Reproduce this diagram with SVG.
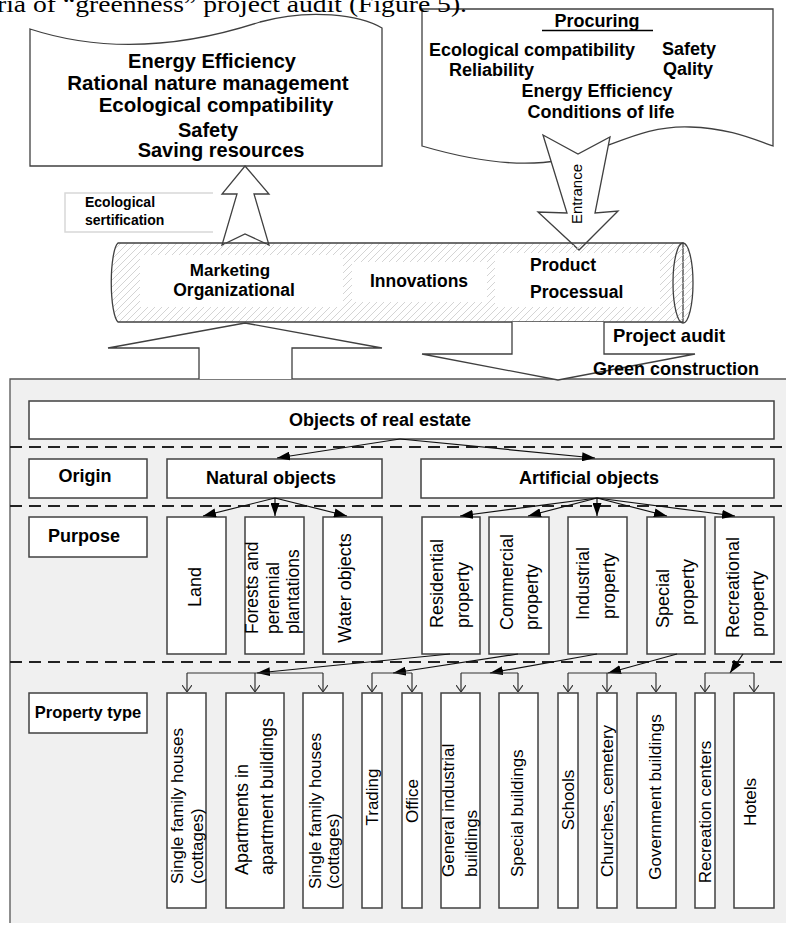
<svg xmlns="http://www.w3.org/2000/svg" width="786" height="926" viewBox="0 0 786 926">
<style>
.b{font-family:"Liberation Sans",Arial,sans-serif;font-weight:bold;fill:#000}
.r{font-family:"Liberation Sans",Arial,sans-serif;fill:#000}
.box{fill:#fff;stroke:#404040;stroke-width:1.5}
.shape{fill:#fff;stroke:#404040;stroke-width:1.3}
.conn{stroke:#111;stroke-width:1.2;fill:none}
.dash{stroke:#222;stroke-width:2;stroke-dasharray:12 7;fill:none}
</style>
<defs>
<pattern id="hatch" patternUnits="userSpaceOnUse" width="7" height="7">
<path d="M-1,8 L8,-1" stroke="#c9c9c9" stroke-width="0.8"/>
</pattern>
<marker id="fa" viewBox="0 0 10 10" refX="10" refY="5" markerUnits="userSpaceOnUse" markerWidth="13" markerHeight="9" orient="auto" preserveAspectRatio="none">
<path d="M0,0 L10,5 L0,10 Z" fill="#000"/>
</marker>
<marker id="oa" viewBox="0 0 10 10" refX="10" refY="5" markerUnits="userSpaceOnUse" markerWidth="7" markerHeight="10" orient="auto" preserveAspectRatio="none">
<path d="M0,0 L10,5 L0,10" fill="none" stroke="#333" stroke-width="1.2"/>
</marker>
</defs>
<rect width="786" height="926" fill="#fff"/>

<g id="doc-left">
<path class="shape" d="M30,29 C110,55 190,45 260,22 C310,8 360,15 382,28 L382,166 L30,166 Z"/>
<text class="b" x="212" y="68" text-anchor="middle" font-size="20">Energy Efficiency</text>
<text class="b" x="208" y="90" text-anchor="middle" font-size="20.5">Rational nature management</text>
<text class="b" x="216" y="112" text-anchor="middle" font-size="20.5">Ecological compatibility</text>
<text class="b" x="208" y="137" text-anchor="middle" font-size="20">Safety</text>
<text class="b" x="221" y="157" text-anchor="middle" font-size="20">Saving resources</text>
</g>

<g id="doc-right">
<path class="shape" d="M422,9 L773,9 L773,146 C755,140 730,128 690,127 C640,125 610,150 560,160 C520,168 470,160 422,146 Z"/>
<text class="b" x="597" y="27" text-anchor="middle" font-size="18">Procuring</text>
<line x1="542" y1="30.5" x2="653" y2="30.5" stroke="#000" stroke-width="1.3"/>
<text class="b" x="429" y="56" font-size="18">Ecological compatibility</text>
<text class="b" x="662" y="55" font-size="18">Safety</text>
<text class="b" x="449" y="76" font-size="18">Reliability</text>
<text class="b" x="663" y="75" font-size="18">Qality</text>
<text class="b" x="597" y="97" text-anchor="middle" font-size="18">Energy Efficiency</text>
<text class="b" x="601" y="118" text-anchor="middle" font-size="18">Conditions of life</text>
</g>

<g id="entrance-arrow">
<path class="shape" d="M543,135 L578,154 L610,137 L595,213 L618,211 L579,250 L538,212 L567,213 Z"/>
<text class="r" transform="translate(582,194) rotate(-90)" text-anchor="middle" font-size="15">Entrance</text>
</g>

<g id="cert-arrow">
<path class="shape" d="M245,166 L269,194 L254,194 L269,245 L245,234 L222,245 L237,194 L222,194 Z"/>
</g>

<g id="eco-cert">
<path d="M213,193 H65 V232 H213" fill="#fff" stroke="#d8d8d8" stroke-width="1.5"/>
<text class="b" x="85" y="207" font-size="14">Ecological</text>
<text class="b" x="85" y="225" font-size="14">sertification</text>
</g>

<g id="pipe">
<path d="M118,243 L683,243 L683,322 L118,322 A8,40 0 0 1 118,243 Z" fill="url(#hatch)" stroke="#404040" stroke-width="1.3"/>
<rect x="140" y="255" width="203" height="52" fill="#fff"/>
<rect x="352" y="262" width="135" height="40" fill="#fff"/>
<rect x="495" y="253" width="165" height="54" fill="#fff"/>
<ellipse cx="683" cy="283" rx="10" ry="40" fill="url(#hatch)" stroke="#404040" stroke-width="1.3"/>
<text class="b" x="230" y="276" text-anchor="middle" font-size="17">Marketing</text>
<text class="b" x="234" y="296" text-anchor="middle" font-size="17.5">Organizational</text>
<text class="b" x="419" y="287" text-anchor="middle" font-size="17.5">Innovations</text>
<text class="b" x="530" y="271" font-size="17.5">Product</text>
<text class="b" x="530" y="298" font-size="17.5">Processual</text>
</g>

<g id="gray-area">
<rect x="10" y="379" width="790" height="544" fill="#f0f0f0"/>
<path d="M10,923 V379 H786" fill="none" stroke="#555" stroke-width="1.3"/>
</g>

<g id="up-block-arrow">
<path class="shape" d="M199,379 L199,348 L108,348 L245,323 L382,348 L292,348 L292,379"/>
</g>

<g id="down-block-arrow">
<path class="shape" d="M512,322 L512,354 L422,354 L558,380 L695,354 L604,354 L604,322"/>
<text class="b" x="613" y="342" font-size="18.5">Project audit</text>
<text class="b" x="593" y="375" font-size="18">Green construction</text>
</g>

<g id="separators">
<line class="dash" x1="10" y1="447" x2="786" y2="447"/>
<line class="dash" x1="10" y1="506" x2="786" y2="506"/>
<line class="dash" x1="10" y1="662" x2="786" y2="662"/>
</g>

<g id="objects">
<rect class="box" x="29" y="401" width="745" height="38"/>
<text class="b" x="380" y="426" text-anchor="middle" font-size="18">Objects of real estate</text>
</g>
<g id="origin">
<rect class="box" x="29" y="459" width="118" height="39"/>
<text class="b" x="85" y="482" text-anchor="middle" font-size="18">Origin</text>
</g>
<g id="natural">
<rect class="box" x="167" y="459" width="215" height="39"/>
<text class="b" x="271" y="484" text-anchor="middle" font-size="18">Natural objects</text>
</g>
<g id="artificial">
<rect class="box" x="421" y="459" width="353" height="39"/>
<text class="b" x="589" y="484" text-anchor="middle" font-size="18">Artificial objects</text>
</g>
<g id="purpose">
<rect class="box" x="29" y="517" width="118" height="40"/>
<text class="b" x="84" y="542" text-anchor="middle" font-size="18">Purpose</text>
</g>

<g id="land">
<rect class="box" x="167" y="517" width="59" height="137"/>
<text class="r" transform="translate(201,587) rotate(-90)" text-anchor="middle" font-size="18">Land</text>
</g>
<g id="forests">
<rect class="box" x="245" y="517" width="59" height="137"/>
<text class="r" transform="translate(258,634) rotate(-90)" font-size="17.5">Forests and</text>
<text class="r" transform="translate(279,634) rotate(-90)" font-size="17.5">perennial</text>
<text class="r" transform="translate(299,634) rotate(-90)" font-size="17.5">plantations</text>
</g>
<g id="water">
<rect class="box" x="323" y="517" width="59" height="137"/>
<text class="r" transform="translate(351,588) rotate(-90)" text-anchor="middle" font-size="18">Water objects</text>
</g>
<g id="residential">
<rect class="box" x="422" y="517" width="58" height="137"/>
<text class="r" transform="translate(443,628) rotate(-90)" font-size="18">Residential</text>
<text class="r" transform="translate(469,628) rotate(-90)" font-size="18">property</text>
</g>
<g id="commercial">
<rect class="box" x="489" y="517" width="60" height="137"/>
<text class="r" transform="translate(513,630) rotate(-90)" font-size="18">Commercial</text>
<text class="r" transform="translate(538,630) rotate(-90)" font-size="18">property</text>
</g>
<g id="industrial">
<rect class="box" x="568" y="517" width="59" height="137"/>
<text class="r" transform="translate(589,620) rotate(-90)" font-size="18">Industrial</text>
<text class="r" transform="translate(615,619) rotate(-90)" font-size="18">property</text>
</g>
<g id="special">
<rect class="box" x="647" y="517" width="58" height="137"/>
<text class="r" transform="translate(669,628) rotate(-90)" font-size="18">Special</text>
<text class="r" transform="translate(694,625) rotate(-90)" font-size="18">property</text>
</g>
<g id="recreational">
<rect class="box" x="715" y="517" width="59" height="137"/>
<text class="r" transform="translate(739,638) rotate(-90)" font-size="18">Recreational</text>
<text class="r" transform="translate(764,637) rotate(-90)" font-size="18">property</text>
</g>

<g id="property-type">
<rect class="box" x="29" y="693" width="118" height="40"/>
<text class="b" x="88" y="718" text-anchor="middle" font-size="16.5">Property type</text>
</g>
<g id="single1">
<rect class="box" x="167" y="693" width="39" height="215"/>
<text class="r" transform="translate(183,884) rotate(-90)" font-size="17">Single  family houses</text>
<text class="r" transform="translate(203,884) rotate(-90)" font-size="17">(cottages)</text>
</g>
<g id="apartments">
<rect class="box" x="226" y="693" width="58" height="215"/>
<text class="r" transform="translate(248,875) rotate(-90)" font-size="18">Apartments in</text>
<text class="r" transform="translate(273,875) rotate(-90)" font-size="18">apartment buildings</text>
</g>
<g id="single2">
<rect class="box" x="303" y="693" width="40" height="215"/>
<text class="r" transform="translate(321,889) rotate(-90)" font-size="17">Single  family houses</text>
<text class="r" transform="translate(339,889) rotate(-90)" font-size="17">(cottages)</text>
</g>
<g id="trading">
<rect class="box" x="362" y="693" width="20" height="215"/>
<text class="r" transform="translate(378,797) rotate(-90)" text-anchor="middle" font-size="17">Trading</text>
</g>
<g id="office">
<rect class="box" x="402" y="693" width="20" height="215"/>
<text class="r" transform="translate(418,801) rotate(-90)" text-anchor="middle" font-size="17">Office</text>
</g>
<g id="general-industrial">
<rect class="box" x="441" y="693" width="39" height="215"/>
<text class="r" transform="translate(454,877) rotate(-90)" font-size="17">General industrial</text>
<text class="r" transform="translate(477,877) rotate(-90)" font-size="17">buildings</text>
</g>
<g id="special-buildings">
<rect class="box" x="499" y="693" width="39" height="215"/>
<text class="r" transform="translate(523,877) rotate(-90)" font-size="17">Special buildings</text>
</g>
<g id="schools">
<rect class="box" x="558" y="693" width="20" height="215"/>
<text class="r" transform="translate(574,800) rotate(-90)" text-anchor="middle" font-size="17">Schools</text>
</g>
<g id="churches">
<rect class="box" x="597" y="693" width="20" height="215"/>
<text class="r" transform="translate(613,801) rotate(-90)" text-anchor="middle" font-size="17">Churches, cemetery</text>
</g>
<g id="government">
<rect class="box" x="637" y="693" width="39" height="215"/>
<text class="r" transform="translate(661,797) rotate(-90)" text-anchor="middle" font-size="17">Government buildings</text>
</g>
<g id="recreation-centers">
<rect class="box" x="695" y="693" width="20" height="215"/>
<text class="r" transform="translate(711,812) rotate(-90)" text-anchor="middle" font-size="17">Recreation centers</text>
</g>
<g id="hotels">
<rect class="box" x="734" y="693" width="40" height="215"/>
<text class="r" transform="translate(756,802) rotate(-90)" text-anchor="middle" font-size="17">Hotels</text>
</g>

<g id="connectors">
<line class="conn" x1="400" y1="439" x2="277" y2="458" marker-end="url(#fa)"/>
<line class="conn" x1="400" y1="439" x2="595" y2="458" marker-end="url(#fa)"/>
<line class="conn" x1="275" y1="498" x2="203" y2="516" marker-end="url(#fa)"/>
<line class="conn" x1="275" y1="498" x2="275" y2="516" marker-end="url(#fa)"/>
<line class="conn" x1="275" y1="498" x2="347" y2="516" marker-end="url(#fa)"/>
<line class="conn" x1="597" y1="498" x2="460" y2="516" marker-end="url(#fa)"/>
<line class="conn" x1="597" y1="498" x2="528" y2="516" marker-end="url(#fa)"/>
<line class="conn" x1="597" y1="498" x2="597" y2="516" marker-end="url(#fa)"/>
<line class="conn" x1="597" y1="498" x2="667" y2="516" marker-end="url(#fa)"/>
<line class="conn" x1="597" y1="498" x2="735" y2="516" marker-end="url(#fa)"/>

<line class="conn" x1="450" y1="654" x2="257" y2="673" marker-end="url(#fa)"/>
<line class="conn" x1="518" y1="654" x2="393" y2="673" marker-end="url(#fa)"/>
<line class="conn" x1="597" y1="654" x2="490" y2="673" marker-end="url(#fa)"/>
<line class="conn" x1="677" y1="654" x2="608" y2="673" marker-end="url(#fa)"/>
<line class="conn" x1="743" y1="654" x2="730" y2="673" marker-end="url(#fa)"/>

<g stroke="#333" stroke-width="1.2" fill="none">
<path d="M187,673 H323 M372,673 H412 M461,673 H518 M568,673 H656 M705,673 H754"/>
<line x1="187" y1="673" x2="187" y2="692" marker-end="url(#oa)"/>
<line x1="255" y1="673" x2="255" y2="692" marker-end="url(#oa)"/>
<line x1="323" y1="673" x2="323" y2="692" marker-end="url(#oa)"/>
<line x1="372" y1="673" x2="372" y2="692" marker-end="url(#oa)"/>
<line x1="412" y1="673" x2="412" y2="692" marker-end="url(#oa)"/>
<line x1="461" y1="673" x2="461" y2="692" marker-end="url(#oa)"/>
<line x1="518" y1="673" x2="518" y2="692" marker-end="url(#oa)"/>
<line x1="568" y1="673" x2="568" y2="692" marker-end="url(#oa)"/>
<line x1="607" y1="673" x2="607" y2="692" marker-end="url(#oa)"/>
<line x1="656" y1="673" x2="656" y2="692" marker-end="url(#oa)"/>
<line x1="705" y1="673" x2="705" y2="692" marker-end="url(#oa)"/>
<line x1="754" y1="673" x2="754" y2="692" marker-end="url(#oa)"/>
</g>
</g>

<text x="-3" y="12" textLength="470" lengthAdjust="spacingAndGlyphs" style="font-family:'Liberation Serif','Times New Roman',serif;font-size:24px">ria of “greenness” project audit (Figure 5).</text>
</svg>
